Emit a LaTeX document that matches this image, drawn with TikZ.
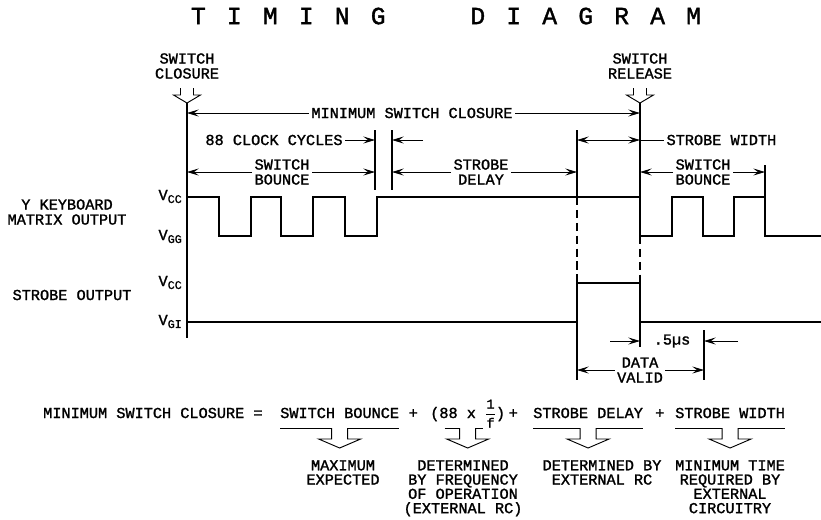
\documentclass[tikz,border=0pt]{standalone}
\usepackage{amsmath}
\usepackage{fontspec}
\setmainfont{Liberation Mono}[FakeBold=1.5]
\usepackage{tikz}
\usetikzlibrary{
    arrows.meta,
    positioning,
    calc
}
\newcommand\railsub[1]{\raisebox{-2.5pt}{\fontsize{10}{10}\selectfont #1}}
\newcommand\widespaced[1]{\spaceskip=18.1pt\relax #1}
\newcommand\perclock{{\fontsize{11.5}{11.5}\selectfont$\genfrac{}{}{0.5pt}{0}{\mathrm{1}}{\mathrm{f}}$}}
\tikzset{
    heading/.style={
        font=\fontsize{21}{24}\selectfont,
        inner sep=0pt
    }
}
\tikzset{
    dimtext/.style={
        align=center,
        inner sep=2pt
    }
}
\tikzset{
    railtag/.style={
        anchor=base east,
        inner sep=0pt
    }
}
\tikzset{
    eqterm/.style={
        anchor=base west,
        inner sep=0pt
    }
}
\tikzset{
    remark/.style={
        anchor=north,
        align=center,
        inner sep=0pt,
        font=\fontsize{13}{12.2}\selectfont
    }
}
\tikzset{
    wave/.style={
        line width=2pt
    }
}
\tikzset{
    refline/.style={
        line width=0.9pt
    }
}
\tikzset{
    refdash/.style={
        line width=0.9pt,
        dash pattern=on 7pt off 4pt
    }
}
\tikzset{
    dimline/.style={
        line width=0.7pt
    }
}
\tikzset{
    hollow/.style={
        line width=0.8pt
    }
}
\tikzset{
    pics/openarrow/.style n args={4}{
        code={
            \draw[hollow] (-#1,-#4) -- (-#1,-#3) -- (-#2,-#3) -- (0,0)
                -- (#2,-#3) -- (#1,-#3) -- (#1,-#4);
        }
    }
}

\begin{document}
\begin{tikzpicture}[
    x=0.03cm, y=-0.03cm,
    >={Stealth[length=10pt,width=6pt,inset=4pt]},
    font=\fontsize{13}{12.8}\selectfont
]
\useasboundingbox (0,0) rectangle (821,519);

\def\yvcc{197}
\def\yvgg{236}
\def\ysvcc{283}
\def\yvgi{322}

% ------------------------------------------------------------
% Title and switch events
% ------------------------------------------------------------

\node[heading] (title) at (446,16) {\widespaced{T I M I N G\ \ \ \ D I A G R A M}};

\coordinate (swc) at (187,103);
\coordinate (swr) at (640,103);

\node[dimtext] (closure) at (187,66) {SWITCH\\CLOSURE};
\node[dimtext] (release) at (640,66) {SWITCH\\RELEASE};
\pic at (swc) {openarrow={6.5}{13.5}{8}{15}};
\pic at (swr) {openarrow={6.5}{13.5}{8}{15}};

% ------------------------------------------------------------
% Reference lines
% ------------------------------------------------------------

\coordinate (bnce) at (375,130);
\coordinate (dlyb) at (392,130);
\coordinate (strb) at (577,130);
\coordinate (bnc2) at (765,165);
\coordinate (vend) at (704,330);

\draw[refline] (swc) -- (swc |- 0,338);
\draw[refline] (swr) -- (swr |- 0,\yvcc);
\draw[refdash] (swr |- 0,\yvgg) -- (swr |- 0,\ysvcc);
\draw[refline] (swr |- 0,\yvgi) -- (swr |- 0,347);
\draw[refline] (strb) -- (strb |- 0,\yvcc);
\draw[refdash] (strb |- 0,\yvcc) -- (strb |- 0,\ysvcc);
\draw[refline] (strb |- 0,\yvgi) -- (strb |- 0,380);
\draw[refline] (bnce) -- (bnce |- 0,190);
\draw[refline] (dlyb) -- (dlyb |- 0,190);
\draw[refline] (bnc2) -- (bnc2 |- 0,\yvcc);
\draw[refline] (vend) -- (vend |- 0,380);

% ------------------------------------------------------------
% Dimensions
% ------------------------------------------------------------

\node[dimtext] (minclos) at (412,113) {MINIMUM SWITCH CLOSURE};
\draw[dimline,->] (minclos.west) -- (minclos.west -| swc);
\draw[dimline,->] (minclos.east) -- (minclos.east -| swr);

\node[dimtext] (cycles) at (274,140) {88 CLOCK CYCLES};
\coordinate (cyctail) at (423,140);
\draw[dimline,->] (cycles.east) -- (cycles.east -| bnce);
\draw[dimline,->] (cyctail) -- (cyctail -| dlyb);

\node[dimtext, anchor=west] (swidth) at (664,140) {STROBE WIDTH};
\draw[dimline,<->] (swidth.west -| strb) -- (swidth.west -| swr);
\draw[dimline] (swidth.west -| swr) -- (swidth.west);

\node[dimtext] (bounce) at (282,172) {SWITCH\\BOUNCE};
\draw[dimline,->] (bounce.west) -- (bounce.west -| swc);
\draw[dimline,->] (bounce.east) -- (bounce.east -| bnce);

\node[dimtext] (delay) at (481,172) {STROBE\\DELAY};
\draw[dimline,->] (delay.west) -- (delay.west -| dlyb);
\draw[dimline,->] (delay.east) -- (delay.east -| strb);

\node[dimtext] (bounce2) at (703,172) {SWITCH\\BOUNCE};
\draw[dimline,->] (bounce2.west) -- (bounce2.west -| swr);
\draw[dimline,->] (bounce2.east) -- (bounce2.east -| bnc2);

\node[dimtext] (halfus) at (672,341) {.5µs};
\coordinate (hustail) at (610,341);
\coordinate (hushead) at (738,341);
\draw[dimline,->] (hustail) -- (hustail -| swr);
\draw[dimline,->] (hushead) -- (hushead -| vend);

\node[dimtext] (valid) at (640,370) {DATA\\VALID};
\draw[dimline,->] (valid.west) -- (valid.west -| strb);
\draw[dimline,->] (valid.east) -- (valid.east -| vend);

% ------------------------------------------------------------
% Waveforms
% ------------------------------------------------------------

\node[dimtext] (ykbd) at (67,212) {Y KEYBOARD\\MATRIX OUTPUT};
\node[railtag] (yvcc) at (182,200) {V\railsub{CC}};
\node[railtag] (yvgg) at (182,240) {V\railsub{GG}};

\draw[wave] (187,\yvcc) -| (219,\yvgg) -| (251,\yvcc) -| (281,\yvgg)
    -| (313,\yvcc) -| (345,\yvgg) -| (377,\yvcc) -| (640,\yvgg)
    -| (672,\yvcc) -| (703,\yvgg) -| (734,\yvcc) -| (765,\yvgg) -- (821,\yvgg);

\node[dimtext] (strout) at (72,295) {STROBE OUTPUT};
\node[railtag] (svcc) at (182,286) {V\railsub{CC}};
\node[railtag] (svgi) at (182,325) {V\railsub{GI}};

\draw[wave] (187,\yvgi) -| (577,\ysvcc) -| (640,\yvgi) -- (821,\yvgi);

% ------------------------------------------------------------
% Equation
% ------------------------------------------------------------

\node[eqterm] (lhs) at (43,418) {MINIMUM SWITCH CLOSURE =};
\node[eqterm] (bnc) at (280,418) {SWITCH BOUNCE};
\node[eqterm] (plus1) at (408.5,418) {+};
\node[eqterm] (clk) at (430,418) {(88 x \perclock)};
\node[eqterm] (plus2) at (508.5,418) {+};
\node[eqterm] (dly) at (533,418) {STROBE DELAY};
\node[eqterm] (plus3) at (655,418) {+};
\node[eqterm] (wid) at (675,418) {STROBE WIDTH};

% bracket lines, open where the arrow stems start
\foreach \t in {bnc,dly,wid} {
    \draw[hollow] (\t.west |- 0,428) -- ($(\t |- 0,428)+(-8,0)$);
    \draw[hollow] ($(\t |- 0,428)+(8,0)$) -- (\t.east |- 0,428);
    \pic at (\t |- 0,448) {openarrow={8}{21}{9}{20}};
}
\coordinate (clktip) at ($(clk |- 0,448)+(0,0)$);
\draw[hollow] ($(clktip)+(-23,-20)$) -- ($(clktip)+(-8,-20)$);
\draw[hollow] ($(clktip)+(8,-20)$) -- ($(clktip)+(15,-20)$);
\pic at (clktip) {openarrow={8}{21}{9}{20}};

\node[remark] (maxexp) at (343,460) {MAXIMUM\\EXPECTED};
\node[remark] (freq) at (463,460) {DETERMINED\\BY FREQUENCY\\OF OPERATION\\(EXTERNAL RC)};
\node[remark] (extrc) at (602,460) {DETERMINED BY\\EXTERNAL RC};
\node[remark] (mintime) at (730,460) {MINIMUM TIME\\REQUIRED BY\\EXTERNAL\\CIRCUITRY};

\end{tikzpicture}
\end{document}
